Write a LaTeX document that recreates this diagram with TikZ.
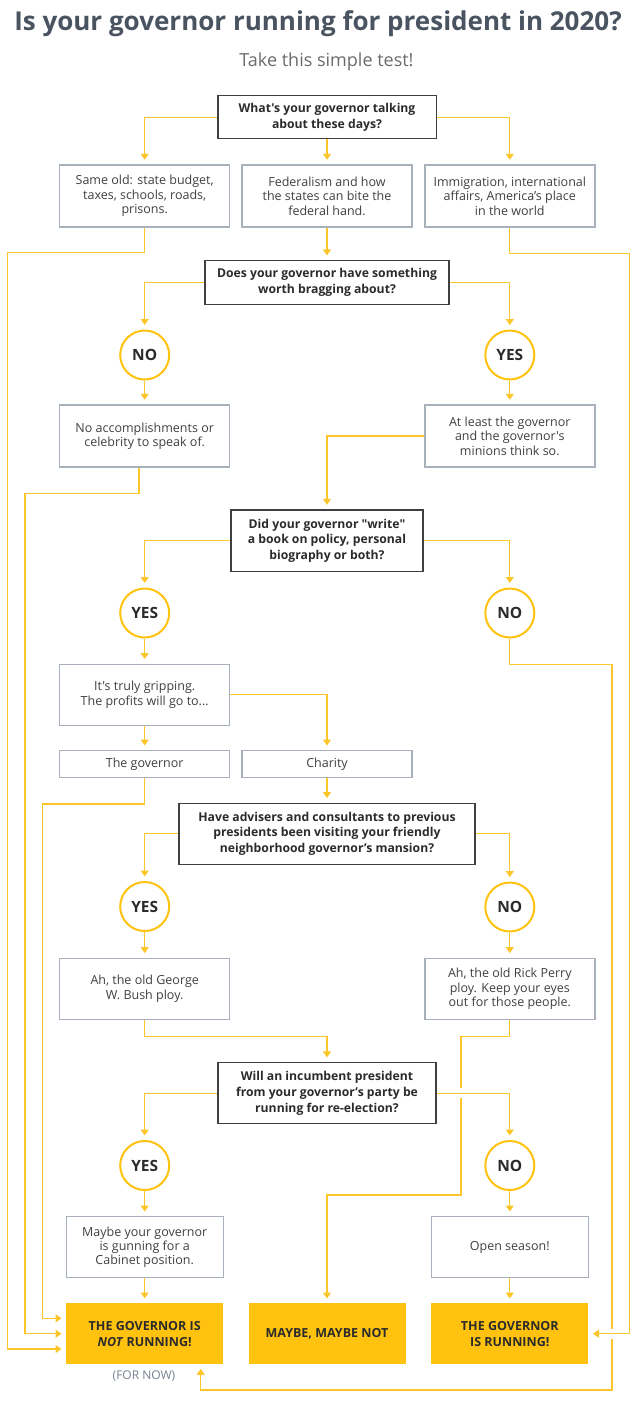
\documentclass[tikz,border=0pt]{standalone}
\usepackage{fontspec}
\setmainfont{Open Sans}[Ligatures=TeXOff]
\usepackage{tikz}
\usetikzlibrary{arrows.meta}
\pgfdeclarelayer{wires}
\pgfsetlayers{wires,main}
\definecolor{gold}{HTML}{FFC20E}
\definecolor{wire}{HTML}{FCC62A}
\definecolor{slate}{HTML}{4A5461}
\definecolor{frame}{HTML}{A8B0BC}
\definecolor{qframe}{HTML}{3F3F3F}
\definecolor{ink}{HTML}{2B2B2B}
\definecolor{soft}{HTML}{6B6B6B}
\definecolor{later}{HTML}{76828F}

\begin{document}
\begin{tikzpicture}[x=1pt,y=-1pt,
    question/.style={draw=qframe, line width=1.5pt, fill=white, text=ink, align=center, inner sep=0pt,
      font=\bfseries\fontsize{12.2}{15.7}\selectfont},
    answer/.style={draw=frame, line width=1.4pt, fill=white, text=ink!90, align=center, inner sep=0pt,
      minimum width=170pt, minimum height=61pt, font=\fontsize{12.5}{14.4}\selectfont},
    choice/.style={circle, draw=gold, line width=2pt, fill=white, minimum size=49pt, inner sep=0pt,
      text=ink, font=\bfseries\fontsize{15.5}{18}\selectfont},
    verdict/.style={fill=gold, text=ink, align=center, inner sep=0pt, minimum width=157pt,
      minimum height=61pt, font=\bfseries\fontsize{12.5}{15.7}\selectfont},
    flow/.style={draw=wire, line width=1.25pt, -{Triangle[width=8pt,length=6pt]}, shorten >=4.5pt},
    hop/.style={preaction={draw=white, line width=10pt, -}}]
  \useasboundingbox (0,0) rectangle (635,1406);

  \node[font=\bfseries\fontsize{26}{30}\selectfont, text=slate] (title) at (318,24)
    {Is your governor running for president in 2020?};
  \node[font=\fontsize{18}{22}\selectfont, text=soft] (subtitle) at (326.5,62) {Take this simple test!};

  \node[question, minimum width=218.5pt, minimum height=43pt] (talk) at (327,117.2)
    {What's your governor talking\\about these days?};
  \node[answer, minimum height=62pt] (sameold) at (144.7,196) {Same old: state budget,\\taxes, schools, roads,\\prisons.};
  \node[answer, minimum height=62pt] (federal) at (327,196) {Federalism and how\\the states can bite the\\federal hand.};
  \node[answer, minimum height=62pt] (world) at (509.8,196) {Immigration, international\\affairs, America’s place\\in the world};

  \node[question, minimum width=244.4pt, minimum height=43.6pt] (brag) at (327,282.5)
    {Does your governor have something\\worth bragging about?};
  \node[choice] (bragno) at (144.7,355) {NO};
  \node[choice] (bragyes) at (509.8,355) {YES};
  \node[answer, minimum height=62pt] (nothing) at (144.7,436) {No accomplishments or\\celebrity to speak of.};
  \node[answer, minimum height=62pt] (minions) at (509.8,436) {At least the governor\\and the governor's\\minions think so.};

  \node[question, minimum width=192pt, minimum height=61.3pt] (book) at (327,540.7)
    {Did your governor "write"\\a book on policy, personal\\biography or both?};
  \node[choice] (bookyes) at (144.7,613) {YES};
  \node[choice] (bookno) at (509.8,613) {NO};
  \node[answer] (gripping) at (144.7,694.7) {It's truly gripping.\\The profits will go to...};
  \node[answer, minimum height=26.6pt] (governor) at (144.7,764) {The governor};
  \node[answer, minimum height=26.6pt] (charity) at (327,764) {Charity};

  \node[question, minimum width=296.3pt, minimum height=61pt] (advisers) at (327,833.8)
    {Have advisers and consultants to previous\\presidents been visiting your friendly\\neighborhood governor’s mansion?};
  \node[choice] (advyes) at (144.7,906.5) {YES};
  \node[choice] (advno) at (509.8,907) {NO};
  \node[answer] (bush) at (144.7,988.8) {Ah, the old George\\W. Bush ploy.};
  \node[answer] (perry) at (509.8,988.8) {Ah, the old Rick Perry\\ploy. Keep your eyes\\out for those people.};

  \node[question, minimum width=218pt, minimum height=61pt] (incumbent) at (327,1093.2)
    {Will an incumbent president\\from your governor’s party be\\running for re-election?};
  \node[choice] (incyes) at (144.7,1165.5) {YES};
  \node[choice] (incno) at (509.8,1165.5) {NO};
  \node[answer, minimum width=157pt] (cabinet) at (144.7,1247.2) {Maybe your governor\\is gunning for a\\Cabinet position.};
  \node[answer, minimum width=157pt] (open) at (509.8,1247.2) {Open season!};

  \node[verdict] (notrun) at (144.7,1333.7) {THE GOVERNOR IS\\\textit{NOT} RUNNING!};
  \node[verdict] (maybe) at (327,1333.7) {MAYBE, MAYBE NOT};
  \node[verdict] (running) at (509.8,1333.7) {THE GOVERNOR\\IS RUNNING!};
  \node[font=\fontsize{12}{14}\selectfont, text=later] (fornow) at (144,1376) {(FOR NOW)};

  \begin{pgfonlayer}{wires}
  \draw[flow] (talk.west) -| (sameold.north);
  \draw[flow] (talk) -- (federal);
  \draw[flow] (talk.east) -| (world.north);
  \draw[flow] (sameold.south) -- ++(0,25) -| (7.3,1349) -- (notrun.west |- 0,1349);
  \draw[flow] (federal) -- (brag);
  \draw[flow] (brag.west) -| (bragno.north);
  \draw[flow] (brag.east) -| (bragyes.north);
  \draw[flow] (bragno) -- (nothing);
  \draw[flow] (bragyes) -- (minions);
  \draw[flow] ([xshift=-5.7pt]nothing.south) -- ++(0,25.7) -| (25.1,1333.7) -- (notrun.west);
  \draw[flow] (minions.west) -| (book.north);
  \draw[flow] (book.west) -| (bookyes.north);
  \draw[flow] (book.east) -| (bookno.north);
  \draw[flow] (bookyes) -- (gripping);
  \draw[flow] (bookno.south) -- ++(0,26) -| (612.1,1390) -| ([xshift=56pt]notrun.south);
  \draw[flow] (gripping) -- (governor);
  \draw[flow] (gripping.east) -| (charity.north);
  \draw[flow] (governor.south) -- ++(0,26) -| (42.6,1318.3) -- (notrun.west |- 0,1318.3);
  \draw[flow] (charity) -- (advisers);
  \draw[flow] (advisers.west) -| (advyes.north);
  \draw[flow] (advisers.east) -| (advno.north);
  \draw[flow] (advyes) -- (bush);
  \draw[flow] (advno) -- (perry);
  \draw[flow] (bush.south) -- ++(0,16.7) -| (incumbent.north);
  \draw[flow] (perry.south) -- ++(0,16.7) -| (460.9,1195) -| (maybe.north);
  \draw[flow] (incumbent.west) -| (incyes.north);
  \draw[flow, hop] (incumbent.east) -| (incno.north);
  \draw[flow] (incyes) -- (cabinet);
  \draw[flow] (incno) -- (open);
  \draw[flow] (cabinet) -- (notrun);
  \draw[flow] (open) -- (running);
  \draw[flow, hop] (world.south) -- ++(0,25.5) -| (629.5,1333.7) -- (running.east);
  \end{pgfonlayer}
\end{tikzpicture}
\end{document}
